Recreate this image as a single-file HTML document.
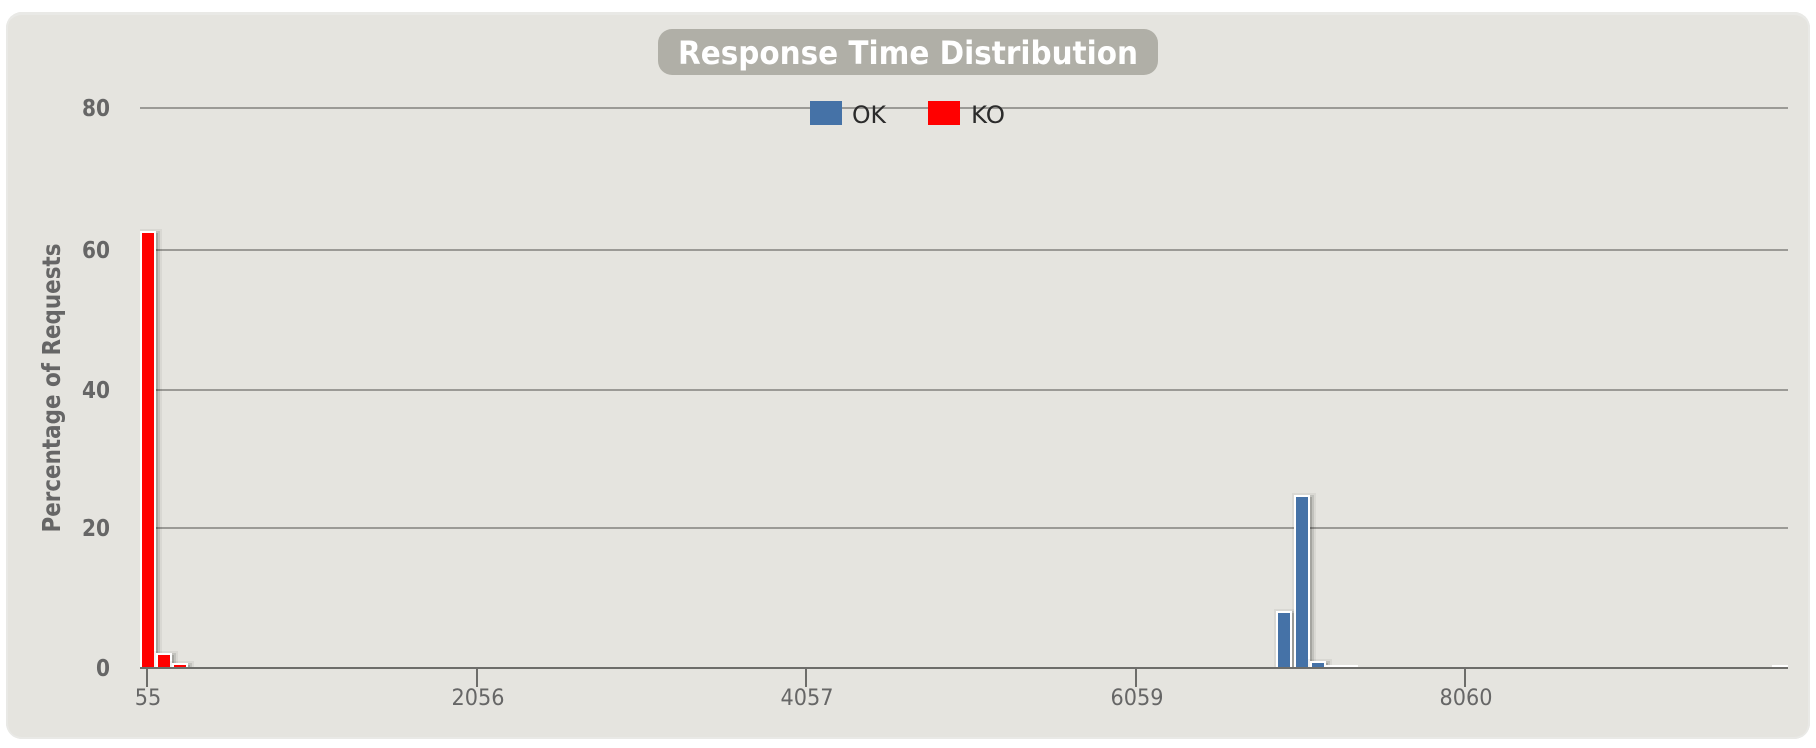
<!DOCTYPE html>
<html lang="en">
<head>
<meta charset="utf-8">
<title>Response Time Distribution</title>
<style>
html,body{margin:0;padding:0;width:1816px;height:748px;background:#fff;overflow:hidden}
#panel{position:absolute;left:6px;top:12px;width:1804px;height:727px;border-radius:16px;background:#e5e4df;box-shadow:inset 0 3px 0 #e9e9e6,inset 2px 0 0 #e9e9e6,inset -2px 0 0 #e9e9e6,inset 0 -2px 0 #e9e9e6}
#chart{position:absolute;left:0;top:0}
text{font-family:"DejaVu Sans","Liberation Sans",sans-serif}
</style>
</head>
<body>
<div id="panel"></div>
<svg id="chart" width="1816" height="748" viewBox="0 0 1816 748">
  <defs><clipPath id="plot-clip"><rect x="140" y="90" width="1648" height="578"></rect></clipPath></defs>
  <g id="grid"></g>
  <g id="bars" clip-path="url(#plot-clip)"></g>
  <g id="axes"></g>
  <rect x="658" y="29" width="500" height="46" rx="14" ry="14" fill="#b0afa7"></rect>
  <text x="908" y="64" text-anchor="middle" font-size="32" font-weight="700" fill="#fff" textLength="460" lengthAdjust="spacingAndGlyphs">Response Time Distribution</text>
  <text transform="translate(60 388) rotate(-90)" text-anchor="middle" font-size="25" font-weight="700" fill="#666" textLength="289" lengthAdjust="spacingAndGlyphs">Percentage of Requests</text>
  <g>
    <rect x="810" y="101" width="32" height="24" fill="#4572a7"></rect>
    <text x="852" y="123" font-size="24" fill="#2b2b2b" textLength="34" lengthAdjust="spacingAndGlyphs">OK</text>
  </g>
  <g>
    <rect x="928" y="101" width="32" height="24" fill="#ff0000"></rect>
    <text x="971" y="123" font-size="24" fill="#2b2b2b" textLength="34" lengthAdjust="spacingAndGlyphs">KO</text>
  </g>
</svg>
<script>
const categories = [55,155,255,355,455,555,655,755,855,955,1056,1156,1256,1356,1456,1556,1656,1756,1856,1956,2056,2156,2256,2356,2456,2556,2657,2757,2857,2957,3057,3157,3257,3357,3457,3557,3657,3757,3857,3957,4057,4157,4257,4358,4458,4558,4658,4758,4858,4958,5058,5158,5258,5358,5458,5558,5658,5758,5858,5959,6059,6159,6259,6359,6459,6559,6659,6759,6859,6959,7059,7159,7259,7359,7459,7559,7660,7760,7860,7960,8060,8160,8260,8360,8460,8560,8660,8760,8860,8960,9060,9160,9261,9361,9461,9561,9661,9761,9861,9961];
const okValues = [0,0,0,0,0,0,0,0,0,0,0,0,0,0,0,0,0,0,0,0,0,0,0,0,0,0,0,0,0,0,0,0,0,0,0,0,0,0,0,0,0,0,0,0,0,0,0,0,0,0,0,0,0,0,0,0,0,0,0,0,0,0,0,0,0,0,0,0,0,8,24.6,0.86,0.3,0.3,0,0,0,0,0,0,0,0,0,0,0,0,0,0,0,0,0,0,0,0,0,0,0,0,0,0.3];
const koValues = [62.3,2,0.57,0,0,0,0,0,0,0,0,0,0,0,0,0,0,0,0,0,0,0,0,0,0,0,0,0,0,0,0,0,0,0,0,0,0,0,0,0,0,0,0,0,0,0,0,0,0,0,0,0,0,0,0,0,0,0,0,0,0,0,0,0,0,0,0,0,0,0,0,0,0,0,0,0,0,0,0,0,0,0,0,0,0,0,0,0,0,0,0,0,0,0,0,0,0,0,0,0];
const yTickValues = [0,20,40,60,80];
const xTickLabels = ['55','2056','4057','6059','8060'];
const seriesList = [
  {name:'ok', color:'#4572a7', values:okValues},
  {name:'ko', color:'#ff0000', values:koValues}
];

const NS = 'http://www.w3.org/2000/svg';
const PLOT_BOTTOM = 668, PX_PER_UNIT = 7, PLOT_LEFT = 139.8, BAND = 16.48, PLOT_RIGHT = 1788;
function yScale(v){ return PLOT_BOTTOM - v * PX_PER_UNIT; }
function xScale(i){ return PLOT_LEFT + i * BAND; }
function even(n){ return 2 * Math.round(n / 2); }
function gridY(v){ return yScale(v) + ((v === 40 || v === 60) ? 2 : 0); }
function make(tag, attrs, parent){
  const el = document.createElementNS(NS, tag);
  Object.keys(attrs).forEach(function(k){ el.setAttribute(k, attrs[k]); });
  parent.appendChild(el);
  return el;
}
const gridGroup = document.getElementById('grid');
const barGroup = document.getElementById('bars');
const axisGroup = document.getElementById('axes');

yTickValues.forEach(function(t){
  const y = gridY(t);
  if (t !== 0) {
    const line = make('rect', {x:140, y:y-1, width:PLOT_RIGHT-140, height:2, fill:'#9b9a96'}, gridGroup);
    
    
  }
  const txt = String(t);
  const label = make('text', {x:110, y:y+8, 'text-anchor':'end', 'font-size':23, 'font-weight':700, fill:'#666', textLength:txt.length*14, lengthAdjust:'spacingAndGlyphs'}, axisGroup);
  
  
  label.textContent = txt;
});

seriesList.forEach(function(series){
  series.values.forEach(function(v, i){
    if (!v) return;
    const left = even(xScale(i));
    const top = even(yScale(v));
    const x = left + 1, w = 14, h = PLOT_BOTTOM - top;
    if (v >= 0.5) {
      [[10,0.05],[6,0.1],[2,0.15]].forEach(function(s){
        const shadow = make('rect', {x:x+2, y:top+2, width:w, height:h, fill:'none', stroke:'#000', 'stroke-width':s[0], 'stroke-opacity':s[1]}, barGroup);
        
        
      });
    }
    const bar = make('rect', {x:x, y:top, width:w, height:h, fill:series.color, stroke:'#fff', 'stroke-width':2}, barGroup);
    
    
  });
});

const baseline = make('rect', {x:140, y:PLOT_BOTTOM-1, width:PLOT_RIGHT-140, height:2, fill:'#6d6d6a'}, axisGroup);



xTickLabels.forEach(function(lab){
  const i = categories.indexOf(Number(lab));
  const tx = Math.round(xScale(i) + 7.2);
  const tick = make('rect', {x:tx-1, y:PLOT_BOTTOM+1, width:2, height:18, fill:'#6d6d6a'}, axisGroup);
  
  
  const text = make('text', {x:tx+1, y:705, 'text-anchor':'middle', 'font-size':22, fill:'#666', textLength:lab.length*13.25, lengthAdjust:'spacingAndGlyphs'}, axisGroup);
  
  
  text.textContent = lab;
});
</script>
</body>
</html>
